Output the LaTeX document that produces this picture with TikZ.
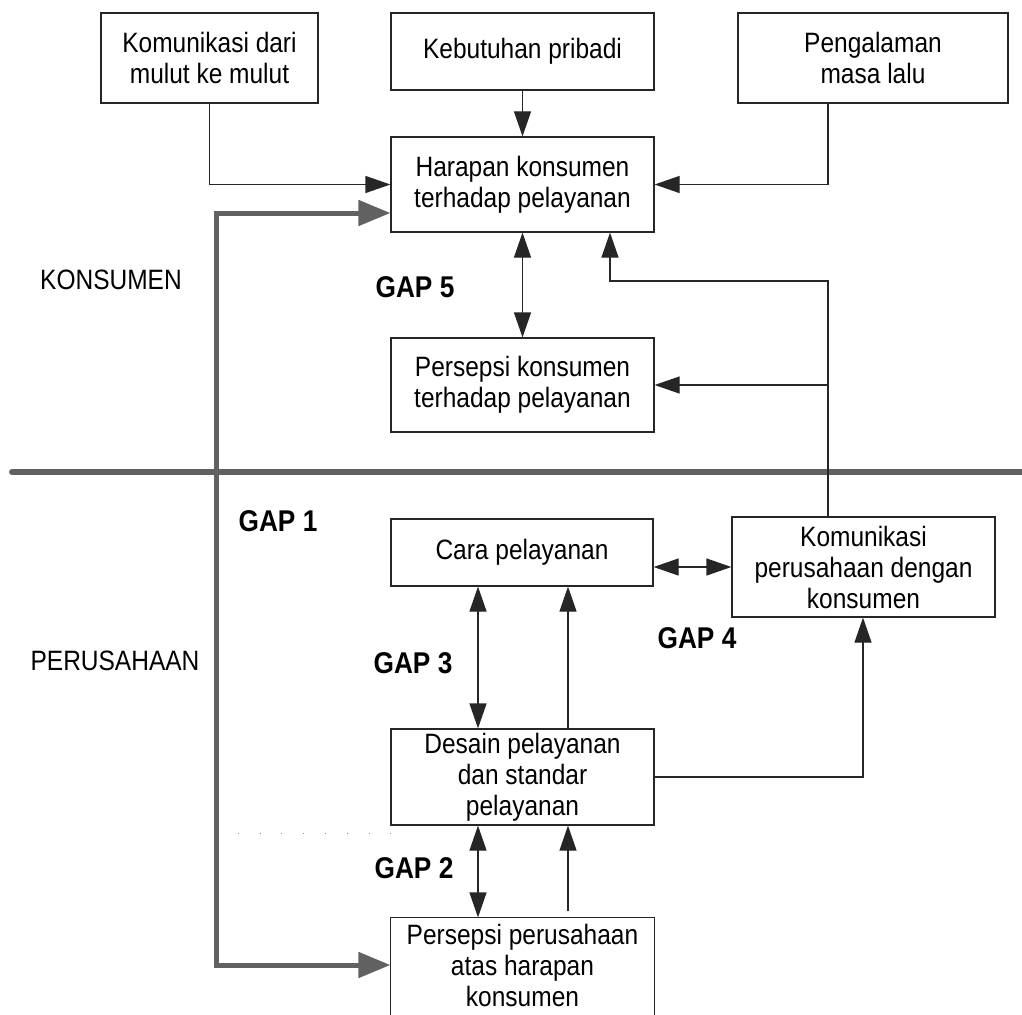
\documentclass[tikz,border=0pt]{standalone}
\usepackage{fontspec}
\setmainfont{Liberation Sans}[FakeStretch=0.875]
\usetikzlibrary{arrows.meta}
\tikzset{
  ln/.style={draw=black!85, line width=1.2pt},
  boxn/.style={ln, minimum width=263pt, inner sep=0pt, align=center, font=\fontsize{28}{31}\selectfont},
  plain/.style={inner sep=0pt, font=\fontsize{28}{31}\selectfont},
  gaplbl/.style={inner sep=0pt, font=\fontsize{30}{31}\selectfont\bfseries},
  arr/.style={ln, -{Triangle[length=25pt,width=17pt]}},
  darr/.style={ln, {Triangle[length=25pt,width=17pt]}-{Triangle[length=25pt,width=17pt]}},
  garr/.style={draw=black!62, line width=5pt, {Triangle[length=32pt,width=25pt]}-{Triangle[length=32pt,width=25pt]}},
}
\begin{document}
\begin{tikzpicture}[x=1pt,y=-1pt]
\clip (0,0) rectangle (1022,1014);
% boxes
\node[boxn, minimum width=217pt, minimum height=90pt] (b1) at (209.5,58) {Komunikasi dari\\mulut ke mulut};
\node[boxn, minimum height=77pt] (b2) at (522.5,51.5) {Kebutuhan pribadi};
\node[boxn, minimum width=270pt, minimum height=90pt] (b3) at (873,58) {Pengalaman\\masa lalu};
\node[boxn, minimum height=95pt] (h) at (522.5,184.5) {Harapan konsumen\\terhadap pelayanan};
\node[boxn, minimum height=94pt] (p) at (522.5,385) {Persepsi konsumen\\terhadap pelayanan};
\node[boxn, minimum width=262pt, minimum height=67pt] (cara) at (522,552.5) {Cara pelayanan};
\node[boxn, minimum height=100pt] (kom) at (863.5,567) {Komunikasi\\perusahaan dengan\\konsumen};
\node[boxn, minimum height=96pt] (des) at (522.5,777) {Desain pelayanan\\dan standar\\pelayanan};
\node[boxn, draw=none, minimum height=94pt] (pp) at (522.5,965) {Persepsi perusahaan\\atas harapan\\konsumen};
\draw[ln] ([yshift=-20pt]pp.south west) -- (pp.north west) -- (pp.north east) -- ([yshift=-20pt]pp.south east);
% labels
\node[plain] (lk) at (111,280) {KONSUMEN};
\node[plain] (lp) at (115,661) {PERUSAHAAN};
\node[gaplbl] (g5) at (415,287) {GAP 5};
\node[gaplbl] (g1) at (278,521) {GAP 1};
\node[gaplbl] (g3) at (413,663) {GAP 3};
\node[gaplbl] (g4) at (697,638) {GAP 4};
\node[gaplbl] (g2) at (414,868) {GAP 2};
% helper coordinates
\coordinate (xr) at (828,0);
\coordinate (xk) at (863,0);
\coordinate (xh) at (610,0);
\coordinate (xl) at (478,0);
\coordinate (xm) at (568,0);
\coordinate (yk) at (0,281);
\coordinate (gx) at (216,0);
% divider and dotted guide
\draw[draw=black!62, line width=6pt, line cap=round] (12,472) -- (1030,472);
\draw[draw=black!45, line width=1pt, dash pattern=on 1pt off 20.8pt] (216,833) -- (391,833);
% connectors
\draw[arr] (b1) |- (h);
\draw[arr] (b2) -- (h);
\draw[arr] (b3.south -| xr) |- (h.east);
\draw[darr] (h) -- (p);
\draw[arr] (kom.north -| xr) -- (xr |- yk) -- (xh |- yk) -- (h.south -| xh);
\draw[arr] (xr |- p.east) -- (p.east);
\draw[darr] (cara.east |- kom) -- (kom.west);
\draw[darr] (cara.south -| xl) -- (des.north -| xl);
\draw[arr] (des.north -| xm) -- (cara.south -| xm);
\draw[arr] (des.east) -| (kom.south -| xk);
\draw[darr] (des.south -| xl) -- (pp.north -| xl);
\draw[arr] ([yshift=6pt]pp.north -| xm) -- (des.south -| xm);
% gray feedback line
\draw[garr] ([yshift=-28.5pt]h.west) -| (gx |- pp.west) -- (pp.west);
\end{tikzpicture}
\end{document}
